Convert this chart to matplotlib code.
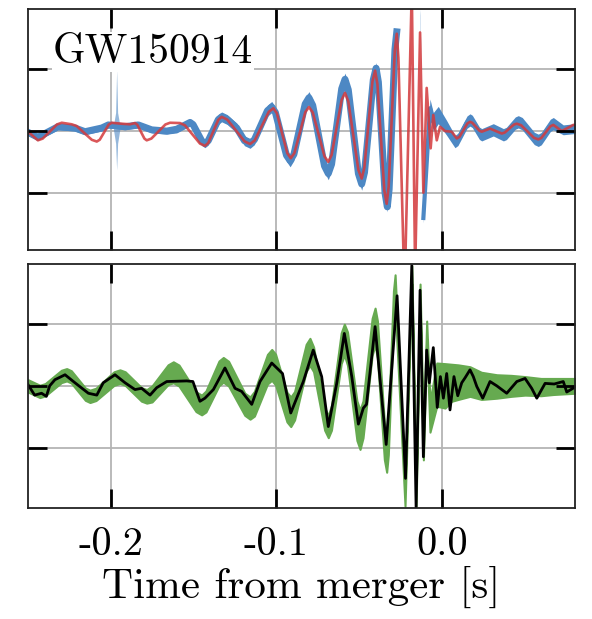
import numpy as np
import matplotlib
matplotlib.use("Agg")
import matplotlib.pyplot as plt

# ---------------- data ----------------
# top panel: reconstructed band (blue): time, centre, half-width
blue_t = [-0.2502, -0.2442, -0.2321, -0.2218, -0.2157, -0.2056, -0.2016, -0.1915, -0.1835,
          -0.1754, -0.1663, -0.1603, -0.1522, -0.1504, -0.1450, -0.1432, -0.1412, -0.1351,
          -0.1331, -0.1297, -0.1240, -0.1193, -0.1159, -0.1133, -0.1054, -0.1028, -0.1006,
          -0.0939, -0.0917, -0.0894, -0.0826, -0.0803, -0.0780, -0.0709, -0.0686, -0.0666,
          -0.0605, -0.0585, -0.0565, -0.0504, -0.0484, -0.0467, -0.0414, -0.0397, -0.0383,
          -0.0343, -0.0329, -0.0318, -0.0283, -0.0272, -0.0262, -0.0232, -0.0222, -0.0181,
          -0.0161, -0.0131, -0.0111, -0.0071, -0.0051, -0.0021, 0.0030, 0.0080, 0.0098,
          0.0153, 0.0171, 0.0185, 0.0228, 0.0242, 0.0312, 0.0373, 0.0391, 0.0445,
          0.0463, 0.0487, 0.0560, 0.0584, 0.0602, 0.0657, 0.0675, 0.0735, 0.0806]
blue_mid = [-0.02, -0.10, 0.07, 0.05, -0.01, 0.05, 0.10, 0.07, 0.10,
            0.02, 0.00, 0.03, 0.14, 0.106, -0.166, -0.20, -0.157, 0.187,
            0.23, 0.187, 0.05, -0.157, -0.20, -0.141, 0.331, 0.39, 0.303,
            -0.393, -0.48, -0.378, 0.438, 0.54, 0.417, -0.567, -0.69, -0.537,
            0.687, 0.84, 0.67, -0.69, -0.86, -0.672, 0.832, 1.02, 0.795,
            -1.005, -1.23, -0.946, 1.326, 1.61, 1.209, -1.999, -2.40, 2.40,
            -2.40, 1.93, -1.41, 0.37, 0.15, 0.26, 0.05, -0.17, -0.135,
            0.145, 0.18, 0.156, -0.036, -0.06, 0.02, -0.06, -0.039, 0.129,
            0.15, 0.12, -0.12, -0.15, -0.123, 0.093, 0.12, 0.02, 0.04]
blue_half = [0.05, 0.05, 0.05, 0.05, 0.05, 0.05, 0.05, 0.05, 0.05,
             0.05, 0.05, 0.06, 0.06, 0.06, 0.07, 0.07, 0.07, 0.08,
             0.08, 0.08, 0.08, 0.08, 0.08, 0.08, 0.09, 0.09, 0.09,
             0.10, 0.10, 0.10, 0.10, 0.10, 0.10, 0.10, 0.10, 0.10,
             0.10, 0.10, 0.10, 0.10, 0.10, 0.09, 0.09, 0.09, 0.08,
             0.08, 0.08, 0.07, 0.07, 0.06, 0.05, 0.05, 0.05, 0.05,
             0.05, 0.05, 0.08, 0.15, 0.15, 0.14, 0.12, 0.10, 0.10,
             0.10, 0.10, 0.10, 0.10, 0.10, 0.10, 0.10, 0.10, 0.10,
             0.10, 0.10, 0.10, 0.10, 0.10, 0.10, 0.10, 0.08, 0.08]
# narrow glitch spike in the blue band
spike_t = [-0.1985, -0.1972, -0.1966, -0.1960, -0.1947]
spike_hi = [0.10, 0.30, 0.99, 0.30, 0.10]
spike_lo = [0.02, -0.20, -0.63, -0.20, 0.02]

# top panel: template (red line)
red_t = [-0.2502, -0.2442, -0.2413, -0.2327, -0.2298, -0.2238, -0.2208, -0.2116, -0.2086,
         -0.2068, -0.2014, -0.1996, -0.1940, -0.1885, -0.1855, -0.1841, -0.1798, -0.1784,
         -0.1756, -0.1671, -0.1643, -0.1583, -0.1553, -0.1462, -0.1432, -0.1412, -0.1351,
         -0.1331, -0.1297, -0.1262, -0.1193, -0.1159, -0.1131, -0.1046, -0.1018, -0.0997,
         -0.0934, -0.0913, -0.0891, -0.0825, -0.0803, -0.0780, -0.0709, -0.0686, -0.0666,
         -0.0605, -0.0585, -0.0565, -0.0504, -0.0484, -0.0468, -0.0419, -0.0403, -0.0389,
         -0.0347, -0.0333, -0.0321, -0.0284, -0.0272, -0.0262, -0.0232, -0.0222, -0.0181,
         -0.0161, -0.0131, -0.0111, -0.0091, -0.0067, -0.0051, -0.0030, -0.0010, 0.0020,
         0.0060, 0.0091, 0.0107, 0.0155, 0.0171, 0.0185, 0.0228, 0.0242, 0.0292,
         0.0363, 0.0381, 0.0436, 0.0454, 0.0480, 0.0558, 0.0584, 0.0602, 0.0657,
         0.0675, 0.0726, 0.0796, 0.0806]
red_y = [-0.01, -0.15, -0.122, 0.107, 0.135, 0.11, 0.082, -0.142, -0.17,
         -0.14, 0.105, 0.135, 0.12, 0.11, 0.13, 0.102, -0.122, -0.15,
         -0.122, 0.107, 0.135, 0.13, 0.093, -0.203, -0.24, -0.193, 0.183,
         0.23, 0.186, 0.07, -0.166, -0.21, -0.152, 0.312, 0.37, 0.289,
         -0.359, -0.44, -0.357, 0.307, 0.39, 0.301, -0.411, -0.50, -0.388,
         0.508, 0.62, 0.481, -0.631, -0.77, -0.595, 0.805, 0.98, 0.764,
         -0.964, -1.18, -0.904, 1.304, 1.58, 1.192, -1.912, -2.30, 2.30,
         -2.30, 1.60, -1.00, 0.70, -0.28, 0.26, -0.15, 0.07, 0.00,
         -0.01, -0.12, -0.093, 0.123, 0.15, 0.134, 0.006, -0.01, 0.04,
         -0.04, -0.024, 0.104, 0.12, 0.095, -0.11, -0.135, -0.112, 0.077,
         0.10, 0.00, 0.10, 0.10]

# bottom panel: reconstructed band (green)
green_t = [-0.2502, -0.2430, -0.2398, -0.2300, -0.2268, -0.2240, -0.2155, -0.2127, -0.2091,
           -0.1982, -0.1946, -0.1914, -0.1816, -0.1784, -0.1752, -0.1655, -0.1623, -0.1589,
           -0.1486, -0.1452, -0.1426, -0.1347, -0.1321, -0.1289, -0.1191, -0.1159, -0.1133,
           -0.1054, -0.1028, -0.1005, -0.0936, -0.0913, -0.0890, -0.0820, -0.0797, -0.0775,
           -0.0708, -0.0686, -0.0667, -0.0608, -0.0589, -0.0570, -0.0513, -0.0494, -0.0476,
           -0.0421, -0.0403, -0.0389, -0.0347, -0.0333, -0.0323, -0.0292, -0.0282, -0.0222,
           -0.0181, -0.0155, -0.0131, -0.0111, -0.0091, -0.0071, -0.0030, 0.0020, 0.0060,
           0.0100, 0.0171, 0.0240, 0.0333, 0.0420, 0.0504, 0.0600, 0.0675, 0.0806]
green_mid = [0.00, -0.09, -0.063, 0.153, 0.18, 0.145, -0.135, -0.17, -0.138,
             0.118, 0.15, 0.118, -0.138, -0.17, -0.131, 0.181, 0.22, 0.167,
             -0.257, -0.31, -0.253, 0.203, 0.26, 0.198, -0.298, -0.36, -0.29,
             0.27, 0.34, 0.264, -0.344, -0.42, -0.323, 0.453, 0.55, 0.429,
             -0.539, -0.66, -0.519, 0.609, 0.75, 0.604, -0.564, -0.71, -0.543,
             0.793, 0.96, 0.754, -0.894, -1.10, -0.835, 1.285, 1.55, -1.75,
             1.80, -1.80, 1.50, -1.00, 0.90, -0.50, 0.02, 0.00, 0.05,
             0.06, 0.07, 0.00, -0.01, 0.00, 0.00, -0.02, -0.01, 0.00]
green_half = [0.10, 0.10, 0.10, 0.10, 0.10, 0.10, 0.10, 0.10, 0.10,
              0.11, 0.11, 0.11, 0.11, 0.11, 0.13, 0.16, 0.17, 0.17,
              0.16, 0.16, 0.17, 0.20, 0.20, 0.20, 0.18, 0.18, 0.20,
              0.24, 0.25, 0.25, 0.24, 0.24, 0.23, 0.22, 0.22, 0.20,
              0.18, 0.18, 0.20, 0.25, 0.25, 0.27, 0.32, 0.32, 0.30,
              0.30, 0.30, 0.30, 0.30, 0.30, 0.28, 0.25, 0.25, 0.20,
              0.15, 0.15, 0.15, 0.20, 0.15, 0.25, 0.35, 0.36, 0.30,
              0.28, 0.24, 0.22, 0.19, 0.17, 0.15, 0.14, 0.13, 0.12]

# bottom panel: whitened data (black line)
black_t = [-0.2502, -0.2462, -0.2420, -0.2391, -0.2371, -0.2339, -0.2278, -0.2218, -0.2137,
           -0.2086, -0.2047, -0.1976, -0.1915, -0.1855, -0.1815, -0.1764, -0.1724, -0.1663,
           -0.1542, -0.1505, -0.1462, -0.1432, -0.1381, -0.1311, -0.1250, -0.1210, -0.1149,
           -0.1099, -0.1028, -0.0963, -0.0913, -0.0837, -0.0777, -0.0726, -0.0686, -0.0635,
           -0.0589, -0.0544, -0.0504, -0.0474, -0.0455, -0.0403, -0.0336, -0.0270, -0.0219,
           -0.0181, -0.0155, -0.0131, -0.0111, -0.0091, -0.0075, -0.0051, -0.0027, -0.0008,
           0.0010, 0.0030, 0.0050, 0.0074, 0.0097, 0.0121, 0.0141, 0.0171, 0.0191,
           0.0212, 0.0248, 0.0292, 0.0333, 0.0393, 0.0454, 0.0504, 0.0544, 0.0575,
           0.0625, 0.0680, 0.0735, 0.0756, 0.0806]
black_y = [0.02, -0.15, -0.12, -0.17, 0.00, 0.10, 0.18, 0.05, -0.12,
           -0.15, 0.05, 0.18, 0.05, -0.06, -0.04, -0.15, -0.03, 0.07,
           0.08, 0.07, -0.25, -0.20, -0.06, 0.29, -0.04, -0.09, -0.30,
           0.07, 0.37, 0.20, -0.44, 0.07, 0.58, 0.15, -0.66, 0.04,
           0.85, 0.15, -0.62, -0.36, -0.30, 0.96, -0.95, 1.46, -1.50,
           1.95, -1.97, 1.55, -1.15, 0.58, 0.05, 0.62, -0.35, 0.15,
           -0.20, 0.20, -0.39, 0.15, -0.16, 0.05, 0.13, 0.26, 0.15,
           -0.01, -0.20, 0.07, 0.00, -0.12, 0.07, 0.12, -0.04, -0.20,
           0.04, 0.03, 0.07, -0.10, -0.02]

xticks = [-0.2, -0.1, 0.0]
xtick_labels = ["-0.2", "-0.1", "0.0"]
yticks = [-1, 0, 1]
title_text = "GW150914"
xlabel_text = "Time from merger [s]"

# ---------------- plotting ----------------
plt.rcParams['font.family'] = ['cmr10', 'DejaVu Serif']
plt.rcParams['axes.unicode_minus'] = False

fig = plt.figure(figsize=(5.92, 6.19), dpi=100)
ax1 = fig.add_axes([0.0473, 0.5961, 0.924, 0.3893])
ax2 = fig.add_axes([0.0473, 0.1793, 0.924, 0.3937])

BLUE = '#4d88c4'
RED = '#d43a3c'
GREEN = '#66aa50'

for ax, ylim in ((ax1, (-1.93, 1.98)), (ax2, (-1.98, 1.97))):
    ax.set_xlim(-0.2502, 0.0806)
    ax.set_ylim(*ylim)
    for x in xticks:
        ax.axvline(x, color='#b4b4b4', lw=1.3, zorder=0.5)
    for y in yticks:
        ax.axhline(y, color='#b4b4b4', lw=1.3, zorder=0.5)
    ax.set_xticks(xticks)
    ax.set_yticks(yticks)
    ax.set_yticklabels([])
    ax.tick_params(direction='in', length=14, width=2.0, top=True, right=True,
                   color='black')
    ax.set_axisbelow(False)
    for s in ax.spines.values():
        s.set_linewidth(1.3)
        s.set_color('#222222')
        s.set_zorder(3)

# top panel
bt = np.array(blue_t); bm = np.array(blue_mid); bh = np.array(blue_half)
ax1.fill_between(bt, bm - bh, bm + bh, color=BLUE, lw=0, zorder=1)
early = bt <= -0.0272
ax1.plot(bt[early], bm[early], color=BLUE, lw=5.0, solid_joinstyle='round', zorder=1.1)
late = bt >= -0.0111
ax1.plot(bt[late], bm[late], color=BLUE, lw=3.0, solid_joinstyle='round', zorder=1.1)
ax1.fill_between(spike_t, spike_lo, spike_hi, color=BLUE, alpha=0.6, lw=0, zorder=1)
ax1.plot(red_t, red_y, color=RED, lw=1.9, alpha=0.85, zorder=2)
ax1.set_xticklabels([])
ax1.text(0.0457, 0.776, title_text, transform=ax1.transAxes, fontsize=30,
         ha='left', va='baseline', zorder=4,
         bbox=dict(facecolor='white', edgecolor='none', pad=1.0))

# bottom panel
gt = np.array(green_t); gm = np.array(green_mid); gh = np.array(green_half)
ax2.fill_between(gt, gm - gh, gm + gh, color=GREEN, lw=1.5, edgecolor=GREEN, zorder=1)
ax2.plot(black_t, black_y, color='black', lw=2.0, zorder=2)
ax2.set_xticklabels(xtick_labels, fontsize=29)
ax2.tick_params(axis='x', pad=14)
ax2.set_xlabel(xlabel_text, fontsize=31, labelpad=2)

fig.savefig('out.png', dpi=100)
